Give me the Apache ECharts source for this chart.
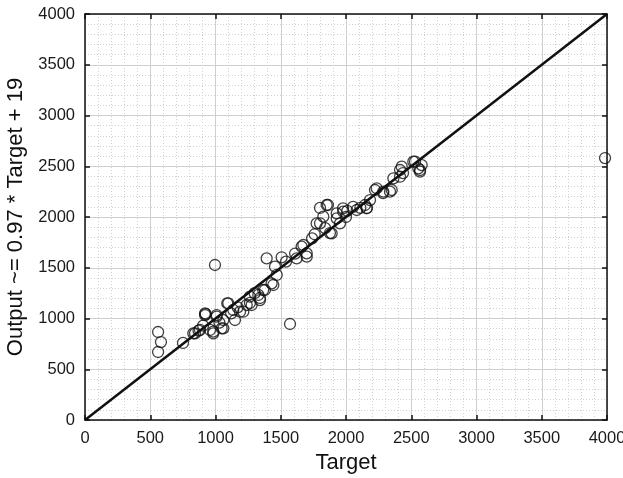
<!DOCTYPE html>
<html>
<head>
<meta charset="utf-8">
<script src="https://cdn.jsdelivr.net/npm/echarts@6/dist/echarts.min.js"></script>
<style>
  html, body { margin: 0; padding: 0; background: #fff; }
  #chart { width: 623px; height: 478px; }
</style>
</head>
<body>
<div id="chart"></div>
<script>
// target / output pairs
var targetVals = [560, 582, 560, 751, 843, 881, 925, 920, 958, 983, 996, 1009, 1047, 1060, 1090,
    1098, 1136, 1149, 1188, 1213, 1239, 1264, 1277, 1328, 1341, 1379, 1392, 1430, 1456, 1507,
    1571, 1622, 1660, 1673, 1699, 1699, 1801, 1826, 1852, 1890, 1929, 1954, 1979, 2000, 2082,
    2146, 2158, 2184, 2222, 2337, 2350, 2414, 2437, 2529, 2567, 2580, 3985,
    1801, 1862, 1775, 1877, 1929, 1977, 2054, 2160, 2235, 2284, 1469, 1443, 1366, 1341, 1264,
    920, 1009, 1060, 983, 830, 2286, 2363, 2414, 2427, 2516, 2554, 2567, 870, 905, 1030,
    1120, 1170, 1300, 1540, 1610, 1740, 1760, 1840, 2010, 2110];
var outputVals = [867, 768, 670, 759, 854, 887, 1044, 1051, 887, 854, 1527, 1034, 903, 985, 1150,
    1150, 1084, 985, 1067, 1067, 1133, 1215, 1133, 1232, 1182, 1281, 1593, 1347, 1511, 1603,
    946, 1593, 1708, 1724, 1642, 1609, 1938, 2003, 2118, 1839, 1986, 1937, 2052, 2000, 2069,
    2118, 2086, 2167, 2266, 2250, 2266, 2397, 2433, 2545, 2463, 2512, 2581,
    2089, 2118, 1937, 1842, 2036, 2085, 2099, 2089, 2283, 2236, 1429, 1330, 1281, 1202, 1153,
    1034, 1018, 903, 870, 854, 2250, 2381, 2463, 2496, 2545, 2480, 2447, 880, 930, 960,
    1050, 1110, 1250, 1560, 1640, 1790, 1830, 1890, 2060, 2090];
var lineX = [0, 4000];
var lineY = [0, 4000];
var axisMin = 0, axisMax = 4000, axisStep = 500;

var points = targetVals.map(function (t, i) { return [t, outputVals[i]]; });
var diag = lineX.map(function (x, i) { return [x, lineY[i]]; });

var chart = echarts.init(document.getElementById('chart'));

var labelFont = { color: '#1a1a1a', fontSize: 16.5, fontFamily: 'Liberation Sans, Arial, sans-serif' };
var nameFont = { color: '#111', fontSize: 22, fontFamily: 'Liberation Sans, Arial, sans-serif' };

function mainAxis(pos, name, gap) {
    return {
        type: 'value',
        position: pos,
        min: axisMin,
        max: axisMax,
        interval: axisStep,
        name: name,
        nameLocation: 'middle',
        nameGap: gap,
        nameTextStyle: nameFont,
        axisLine: { onZero: false, lineStyle: { color: '#111', width: 1.5 } },
        axisTick: { inside: true, length: 5, lineStyle: { color: '#111', width: 1.5 } },
        axisLabel: Object.assign({ margin: 10, formatter: function (v) { return String(v); } }, labelFont),
        splitLine: { show: true, lineStyle: { color: '#cfcfcf', width: 1 } },
        minorTick: { show: true, splitNumber: 5, length: 0 },
        minorSplitLine: { show: true, lineStyle: { color: '#d2d2d2', type: [1, 2], width: 1 } }
    };
}

function boxAxis(pos) {
    return {
        type: 'value',
        position: pos,
        min: axisMin,
        max: axisMax,
        interval: axisStep,
        axisLine: { show: true, onZero: false, lineStyle: { color: '#111', width: 1.5 } },
        axisTick: { show: true, inside: true, length: 5, lineStyle: { color: '#111', width: 1.5 } },
        axisLabel: { show: false },
        splitLine: { show: false }
    };
}

chart.setOption({
    backgroundColor: '#fff',
    animation: false,
    grid: { left: 85, right: 16, top: 14, bottom: 58, outerBoundsMode: 'none' },
    xAxis: [mainAxis('bottom', 'Target', 30), boxAxis('top')],
    yAxis: [mainAxis('left', 'Output ~= 0.97 * Target + 19', 52), boxAxis('right')],
    series: [{
        type: 'line',
        data: diag,
        showSymbol: false,
        lineStyle: { color: '#111', width: 2.5 },
        z: 3
    }, {
        type: 'scatter',
        data: points,
        symbol: 'circle',
        symbolSize: 11,
        itemStyle: { color: 'rgba(0,0,0,0)', borderColor: '#111', borderWidth: 1.3 },
        z: 4
    }]
});
</script>
</body>
</html>
